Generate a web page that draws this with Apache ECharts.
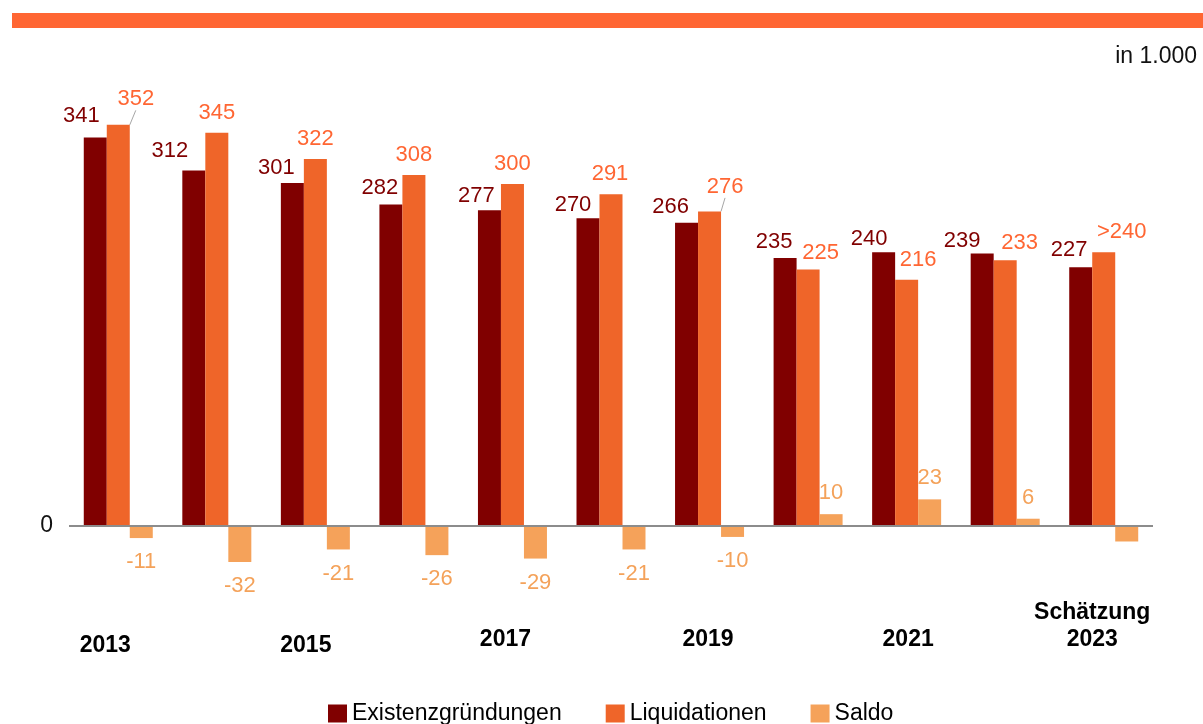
<!DOCTYPE html>
<html>
<head>
<meta charset="utf-8">
<script src="https://cdn.jsdelivr.net/npm/echarts@6/dist/echarts.min.js"></script>
<style>
html,body{margin:0;padding:0;background:#fff;}
#chart{width:1203px;height:724px;}
</style>
</head>
<body>
<div id="chart"></div>
<script>
// ---- data ----
const years = ['2013','2014','2015','2016','2017','2018','2019','2020','2021','2022','2023'];
const tickLabels = ['2013','','2015','','2017','','2019','','2021','','Schätzung\n2023'];
const gruendungen = [341,312,301,282,277,270,266,235,240,239,227];
const liquidationen = [352,345,322,308,300,291,276,225,216,233,240];
const liquidationenLabels = ['352','345','322','308','300','291','276','225','216','233','>240'];
const saldo = [-11,-32,-21,-26,-29,-21,-10,10,23,6,-14];
const saldoLabels = ['-11','-32','-21','-26','-29','-21','-10','10','23','6',''];
const seriesNames = ['Existenzgründungen','Liquidationen','Saldo'];

// ---- styles ----
const FONT = "'Liberation Sans', Arial, sans-serif";
const C_DARK = '#800000', C_ORANGE = '#EF6529', C_SALDO = '#F5A25A';
const C_DARK_TXT = '#800000', C_ORANGE_TXT = '#FF6633', C_SALDO_TXT = '#F4A25A';
// label nudges (glyph centre relative to bar top)
const darkDx = [-14,-24,-16,-11,-13,-15,-16,-11,-14.5,-20,-11.5];
const darkDy = [-22,-20,-16,-18,-15,-14,-17,-17.5,-14,-14,-18];
const orDx = [17.5,0,0,0,0,-1,15.5,12.5,11.5,14.5,18];
const orDy = [-26.5,-20.5,-21,-21.5,-21.5,-21.5,-25.5,-17.5,-21,-18,-21.5];
const leaderIdx = [0,6];

const chart = echarts.init(document.getElementById('chart'));

const axisRich = {};
const axisNudge = {0:[0,26,0,0,27],2:[0,19,0,0,27],4:[0,14,0,0,39],6:[0,3,0,0,39],8:[0,0,0,3,39],10:[0,23,0,0,39]};
Object.keys(axisNudge).forEach(k => {
  const n = axisNudge[k];
  axisRich['r'+k] = {fontFamily: FONT, fontSize: 23, fontWeight: 'bold', color: '#000',
    padding: [n[0],n[1],n[2],n[3]], lineHeight: n[4]};
});
axisRich['r10a'] = {fontFamily: FONT, fontSize: 23, fontWeight: 'bold', color: '#000',
  padding: [0,23,0,0], lineHeight: 15};

const darkData = gruendungen.map((v,i) => ({
  value: v,
  label: {offset: [darkDx[i], darkDy[i] + 12]}
}));
const orData = liquidationen.map((v,i) => ({
  value: v,
  labelLine: {show: leaderIdx.indexOf(i) >= 0}
}));
const saldoData = saldo.map((v,i) => ({
  value: v,
  label: {show: saldoLabels[i] !== '', position: v < 0 ? 'bottom' : 'top', offset: [0, v < 0 ? 13 : -10]}
}));

const option = {
  animation: false,
  backgroundColor: '#fff',
  textStyle: {fontFamily: FONT},
  graphic: [
    {type: 'rect', left: 12, top: 13, shape: {width: 1191, height: 15}, style: {fill: '#FF6633'}, silent: true},
    {type: 'text', right: 6, top: 45, style: {text: 'in 1.000', font: '23px ' + FONT, fill: '#111'}}
  ],
  legend: {
    data: seriesNames,
    left: 323, top: 697,
    icon: 'rect', itemWidth: 19, itemHeight: 18, itemGap: 44,
    textStyle: {fontFamily: FONT, fontSize: 23, color: '#000'}
  },
  grid: {left: 69, right: 50, top: 93, height: 535},
  xAxis: {
    type: 'category', data: years,
    axisLine: {show: false}, axisTick: {show: false},
    axisLabel: {
      interval: 0, margin: 31, verticalAlign: 'bottom',
      formatter: (v, i) => {
        const t = tickLabels[i];
        if (!t) return '';
        if (t.indexOf('\n') >= 0) {
          const p = t.split('\n');
          return '{r' + i + 'a|' + p[0] + '}\n{r' + i + '|' + p[1] + '}';
        }
        return '{r' + i + '|' + t + '}';
      },
      rich: axisRich
    }
  },
  yAxis: {
    type: 'value', min: -90, max: 380, interval: 90,
    axisLine: {show: false}, axisTick: {show: false}, splitLine: {show: false},
    axisLabel: {margin: 16, fontFamily: FONT, fontSize: 23, color: '#111',
      verticalAlign: 'middle', padding: [6,0,0,0],
      formatter: v => v === 0 ? '0' : ''}
  },
  series: [
    {
      name: seriesNames[0], type: 'bar', data: darkData, barWidth: 23, barGap: '0%',
      itemStyle: {color: C_DARK},
      label: {show: true, position: 'top', distance: 0, fontFamily: FONT, fontSize: 22, color: C_DARK_TXT},
      markLine: {
        silent: true, symbol: 'none', label: {show: false},
        lineStyle: {color: '#8c8c8c', width: 2, type: 'solid'},
        data: [{yAxis: 0}], z: 10
      }
    },
    {
      name: seriesNames[1], type: 'bar', data: orData, barWidth: 23, barGap: '0%',
      itemStyle: {color: C_ORANGE},
      label: {show: true, position: 'top', distance: 0, fontFamily: FONT, fontSize: 22, color: C_ORANGE_TXT,
        formatter: p => liquidationenLabels[p.dataIndex]},
      labelLine: {show: false, lineStyle: {color: '#a6a6a6', width: 1}},
      labelLayout: p => ({dx: orDx[p.dataIndex], dy: orDy[p.dataIndex] + 12})
    },
    {
      name: seriesNames[2], type: 'bar', data: saldoData, barWidth: 23, barGap: '0%',
      itemStyle: {color: C_SALDO},
      label: {show: true, distance: 0, fontFamily: FONT, fontSize: 22, color: C_SALDO_TXT,
        formatter: p => saldoLabels[p.dataIndex]}
    }
  ]
};
chart.setOption(option);
</script>
</body>
</html>
